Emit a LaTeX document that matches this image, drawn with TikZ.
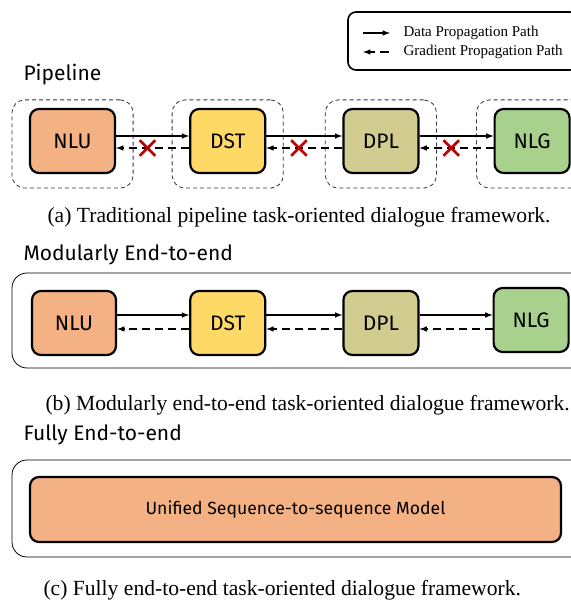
\documentclass[tikz,border=0pt]{standalone}
\usepackage{fontspec}
\setmainfont{Liberation Serif}
\newfontfamily\comicfont{Fira Sans}
\usetikzlibrary{arrows,positioning,fit,shapes.misc}

\definecolor{nlucol}{HTML}{F4B183}
\definecolor{dstcol}{HTML}{FFD966}
\definecolor{dplcol}{HTML}{D3CC91}
\definecolor{nlgcol}{HTML}{A9D18E}
\definecolor{crosscol}{HTML}{C00000}

\tikzset{
  module/.style={draw,line width=2.2pt,rounded corners=9pt,minimum width=75pt,minimum height=64pt,
    font=\comicfont\fontsize{21}{21}\selectfont},
  group/.style={draw=black!80,dash pattern=on 4pt off 3pt,rounded corners=13pt,line width=0.8pt},
  panel/.style={draw,rounded corners=15pt,line width=0.8pt},
  data/.style={->,line width=1.5pt},
  grad/.style={->,line width=1.5pt,dash pattern=on 8pt off 5pt},
  blocked/.style={solid,cross out,draw=crosscol,line width=2.6pt,minimum size=13pt,inner sep=0pt},
  title/.style={anchor=west,font=\comicfont\fontsize{21}{21}\selectfont},
  caption/.style={anchor=west,font=\fontsize{21.6}{21.6}\selectfont},
  legendtext/.style={anchor=west,font=\fontsize{15}{15}\selectfont}
}

\begin{document}
\begin{tikzpicture}[x=1pt,y=-1pt,>=latex,node distance=74pt]
\useasboundingbox (0,0) rectangle (570,601);

% legend
\draw[line width=1.6pt,rounded corners=8pt] (348,12) rectangle (578,70);
\coordinate (dataS) at (363,33);
\coordinate (dataE) at (390,33);
\coordinate (gradS) at (389,52);
\coordinate (gradE) at (363,52);
\node[legendtext] (dataT) at (400,33) {Data Propagation Path};
\node[legendtext] (gradT) at (400,52) {Gradient Propagation Path};
\draw[data] (dataS) -- (dataE);
\draw[->,line width=1.5pt,dash pattern=on 9pt off 5pt] (gradS) -- (gradE);

% (a) pipeline
\node[title] (pipeT) at (20,75) {Pipeline};
\node[module,fill=nlucol,minimum width=85pt] (nluA) at (72.5,141) {NLU};
\node[module,fill=dstcol,right=73pt of nluA] (dstA) {DST};
\node[module,fill=dplcol,right=76pt of dstA] (dplA) {DPL};
\node[module,fill=nlgcol,right=74pt of dplA] (nlgA) {NLG};
\foreach \m in {nluA,dstA,dplA,nlgA}
  \node[group,fit=(\m),inner xsep=17pt,inner ysep=11pt,yshift=-3pt] (\m G) {};
\foreach \a/\b in {nluA/dstA,dstA/dplA,dplA/nlgA}{
  \draw[data] ([yshift=5pt]\a.east) -- ([yshift=5pt]\b.west);
  \draw[grad] ([yshift=-7pt]\b.west) -- node[blocked,pos=0.57]{} ([yshift=-7pt]\a.east);
}
\node[caption] (capA) at (44,217) {(a) Traditional pipeline task-oriented dialogue framework.};

% (b) modularly end-to-end
\node[title] (modT) at (20,255) {Modularly End-to-end};
\draw[panel] (12,273) rectangle (590,368);
\node[module,fill=nlucol,minimum width=84pt] (nluB) at (74,323) {NLU};
\node[module,fill=dstcol,right=72pt of nluB] (dstB) {DST};
\node[module,fill=dplcol,right=76pt of dstB] (dplB) {DPL};
\node[module,fill=nlgcol,right=73pt of dplB,yshift=3pt] (nlgB) {NLG};
\foreach \a/\b in {nluB/dstB,dstB/dplB,dplB/nlgB}{
  \draw[data] ([yshift=8pt]\a.east) -- ([yshift=8pt]\a.east -| \b.west);
  \draw[grad] ([yshift=-6pt]\a.east -| \b.west) -- ([yshift=-6pt]\a.east);
}
\node[caption] (capB) at (42,405) {(b) Modularly end-to-end task-oriented dialogue framework.};

% (c) fully end-to-end
\node[title] (fullT) at (20,435) {Fully End-to-end};
\draw[panel] (12,460) rectangle (590,557);
\node[module,fill=nlucol,minimum width=531pt,minimum height=65pt,
  font=\comicfont\fontsize{17.6}{17.6}\selectfont] (seqC) at (295.5,509.5) {Unified Sequence-to-sequence Model};
\node[caption] (capC) at (40,590) {(c) Fully end-to-end task-oriented dialogue framework.};
\end{tikzpicture}
\end{document}
